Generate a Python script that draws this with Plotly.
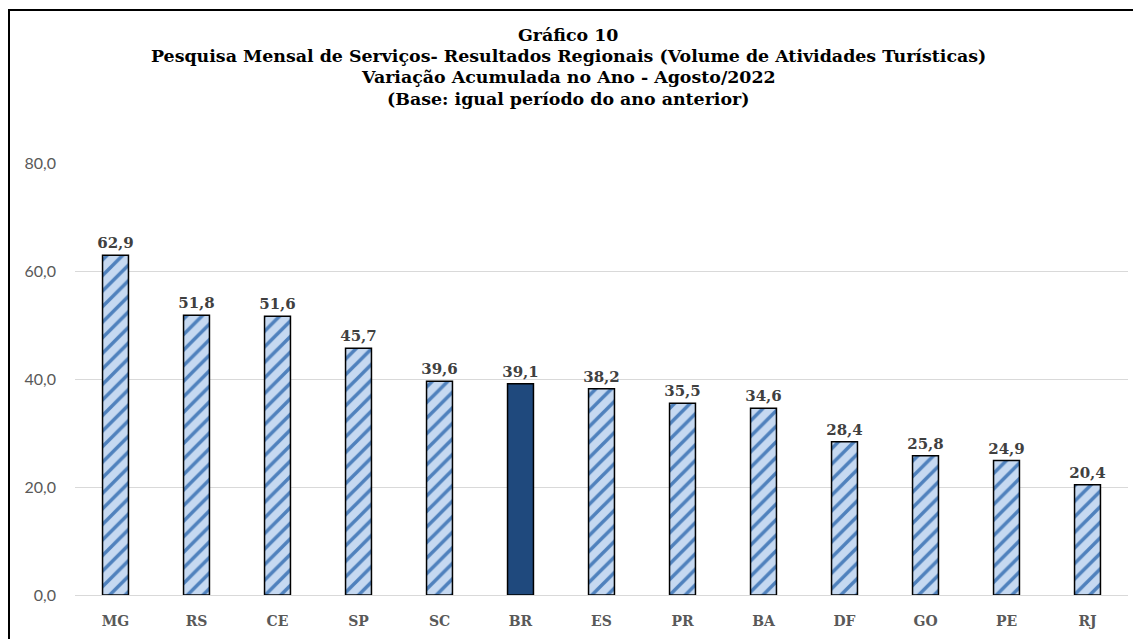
import plotly.graph_objects as go

categories = ["MG", "RS", "CE", "SP", "SC", "BR", "ES", "PR", "BA", "DF", "GO", "PE", "RJ"]
values = [62.9, 51.8, 51.6, 45.7, 39.6, 39.1, 38.2, 35.5, 34.6, 28.4, 25.8, 24.9, 20.4]
highlight = "BR"
title_lines = [
    "Gráfico 10",
    "Pesquisa Mensal de Serviços- Resultados Regionais (Volume de Atividades Turísticas)",
    "Variação Acumulada no Ano - Agosto/2022",
    "(Base: igual período do ano anterior)",
]

STRIPE_BG = "#c6d9f1"
STRIPE_FG = "#4f81bd"
BR_COLOR = "#1f497d"

serif = "DejaVu Serif"

states_x = [c for c in categories if c != highlight]
states_y = [v for c, v in zip(categories, values) if c != highlight]
br_x = [c for c in categories if c == highlight]
br_y = [v for c, v in zip(categories, values) if c == highlight]

label_font = dict(family=serif, size=15, color="#404040", weight="bold")

fig = go.Figure()
fig.add_trace(go.Bar(
    x=states_x, y=states_y,
    marker=dict(
        color=STRIPE_BG,
        line=dict(color="#000000", width=1.5),
        pattern=dict(shape="/", fgcolor=STRIPE_FG, bgcolor=STRIPE_BG, fgopacity=1,
                     size=11, solidity=0.32, fillmode="replace"),
    ),
    texttemplate="%{y:.1f}", textposition="outside", textfont=label_font,
    constraintext="none", cliponaxis=False,
))
fig.add_trace(go.Bar(
    x=br_x, y=br_y,
    marker=dict(color=BR_COLOR, line=dict(color="#000000", width=1.5)),
    texttemplate="%{y:.1f}", textposition="outside", textfont=label_font,
    constraintext="none", cliponaxis=False,
))

# the page body has an 8px margin; figure sized so its right edge meets the window
OFF = 8
W, H = 1141 - OFF, 639 - OFF
ml, mr, mt, mb = 75 - OFF, 13, 163 - OFF, 44
pw = W - ml - mr
ph = H - mt - mb

def px_x(x):
    return (x - OFF - ml) / pw

def px_y(y):
    return (H - mb - (y - OFF)) / ph

annotations = []
title_y = [35, 56, 77, 99]
for t, yy in zip(title_lines, title_y):
    annotations.append(dict(
        text=t, xref="paper", yref="paper",
        x=px_x(568), y=px_y(yy), xanchor="center", yanchor="middle",
        showarrow=False, font=dict(family=serif, size=17.4, color="#000000", weight="bold"),
    ))

fig.update_layout(
    width=W, height=H,
    margin=dict(l=ml, r=mr, t=mt, b=mb, autoexpand=False),
    paper_bgcolor="white", plot_bgcolor="white",
    separators=",.",
    barmode="overlay",
    bargap=0.68,
    showlegend=False,
    annotations=annotations,
    shapes=[dict(type="rect", xref="paper", yref="paper",
                 x0=px_x(OFF + 1), x1=px_x(1160), y0=px_y(680), y1=px_y(OFF + 2),
                 line=dict(color="#000000", width=2), fillcolor="rgba(0,0,0,0)",
                 layer="below")],
    xaxis=dict(
        categoryorder="array", categoryarray=categories,
        showgrid=False, showline=False, ticks="",
        tickfont=dict(family=serif, size=14, color="#595959", weight="bold"),
        ticklabelstandoff=16,
    ),
    yaxis=dict(
        range=[0, 80], dtick=20, tickformat=".1f",
        showgrid=True, gridcolor="#d9d9d9", gridwidth=1,
        zeroline=True, zerolinecolor="#d9d9d9", zerolinewidth=1,
        showline=False, ticks="",
        tickfont=dict(family="Lato", size=16, color="#595959"),
        ticklabelstandoff=18,
    ),
)

fig.write_html("out.html")
